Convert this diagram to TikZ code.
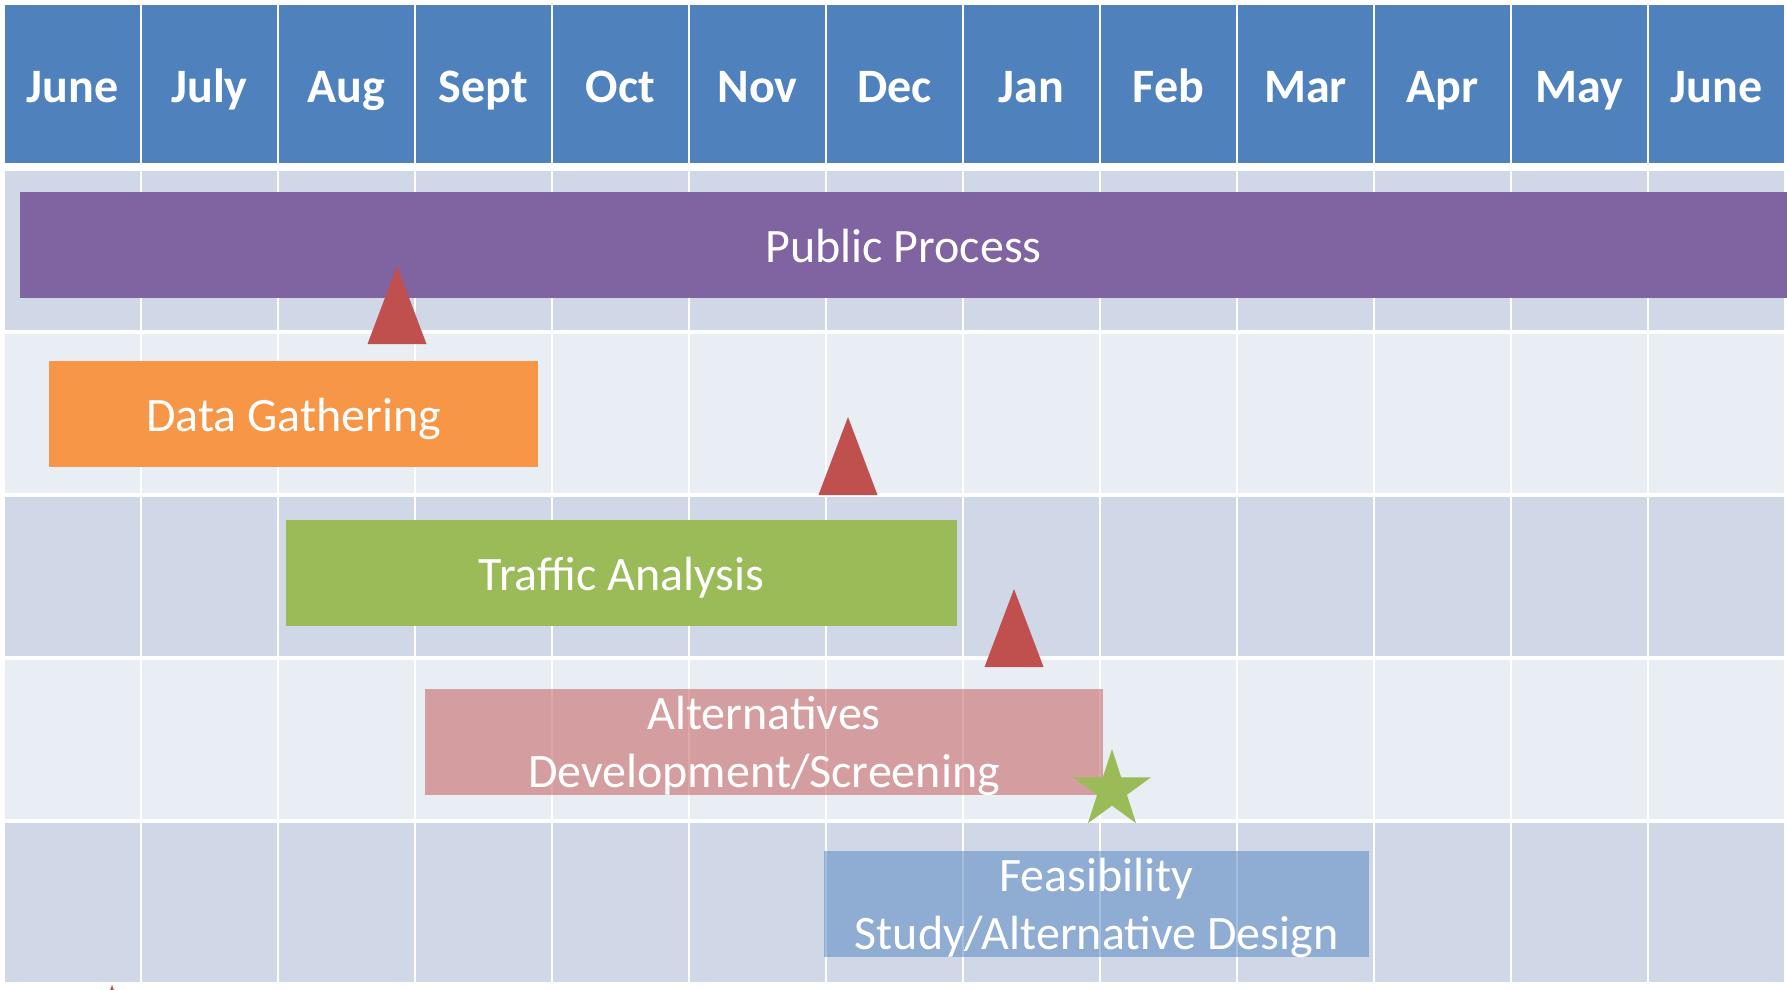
\documentclass[tikz,border=0pt]{standalone}
\usepackage{fontspec}
\setmainfont{Carlito}
\usetikzlibrary{shapes.geometric}

\definecolor{hdrblue}{HTML}{4F81BD}
\definecolor{rowdark}{HTML}{D0D8E8}
\definecolor{rowlight}{HTML}{E9EDF4}
\definecolor{pubpurple}{HTML}{8064A2}
\definecolor{dataorange}{HTML}{F79646}
\definecolor{trafgreen}{HTML}{9BBB59}
\definecolor{altred}{HTML}{C0504D}

\begin{document}
\begin{tikzpicture}[
x=1pt,y=-1pt,
every node/.style={inner sep=0pt,outer sep=0pt}
]

  \tikzstyle{month}=[fill=hdrblue,minimum width=135pt,minimum height=158pt,text=white,text height=40pt,text depth=4pt,font=\fontsize{48}{58}\selectfont\bfseries]
  \tikzstyle{cell}=[minimum width=135pt,minimum height=159pt]
  \tikzstyle{task}=[text=white,align=center,minimum height=106pt,font=\fontsize{48}{58}\selectfont]
  \tikzstyle{oneline}=[text height=34pt,text depth=0pt]
  \tikzstyle{twolines}=[text height=92pt,text depth=2pt]
  \tikzstyle{seethru}=[fill opacity=0.5,text opacity=1]
  \tikzstyle{milestone}=[fill=altred]

  \useasboundingbox [fill=white] (0,0) rectangle (1787,989);
  \clip (0,0) rectangle (1787,989);

  % month header
  \foreach \m [count=\i] in {June,July,Aug,Sept,Oct,Nov,Dec,Jan,Feb,Mar,Apr,May,June}
    \node (m\i) [month] at ({72.5+137*(\i-1)},84) {\m};

  % background grid
  \foreach \r/\col in {1/rowdark,2/rowlight,3/rowdark,4/rowlight,5/rowdark}
    \foreach \c in {1,...,13}
      \node (c\r-\c) [cell,fill=\col] at ({72.5+137*(\c-1)},{250.5+163*(\r-1)}) {};

  % task bars
  \node (pub) [task,oneline,fill=pubpurple,minimum width=1767pt] at (903.5,245) {Public Process};
  \node (data) [task,oneline,fill=dataorange,minimum width=489pt] at (293.5,414) {Data Gathering};
  \node (traffic) [task,oneline,fill=trafgreen,minimum width=671pt] at (621.5,573) {Traffic Analysis};
  \node (alt) [task,twolines,seethru,fill=altred,minimum width=678pt] at (764,742) {Alternatives\\Development/Screening};
  \node (feas) [task,twolines,seethru,fill=hdrblue,minimum width=545pt] at (1096.5,904) {Feasibility\\Study/Alternative Design};

  % milestones
  \coordinate (t1) at (397,266);
  \coordinate (t2) at (848,417);
  \coordinate (t3) at (1014,589);
  \coordinate (t4) at (112,985);
  \foreach \t in {t1,t2,t3,t4}
    \fill [milestone] (\t) -- ++(29.5,78) -- ++(-59,0) -- cycle;

  \node (goal) [star,star points=5,star point ratio=2.618,fill=trafgreen,minimum size=82pt] at (1112,790) {};

\end{tikzpicture}
\end{document}
